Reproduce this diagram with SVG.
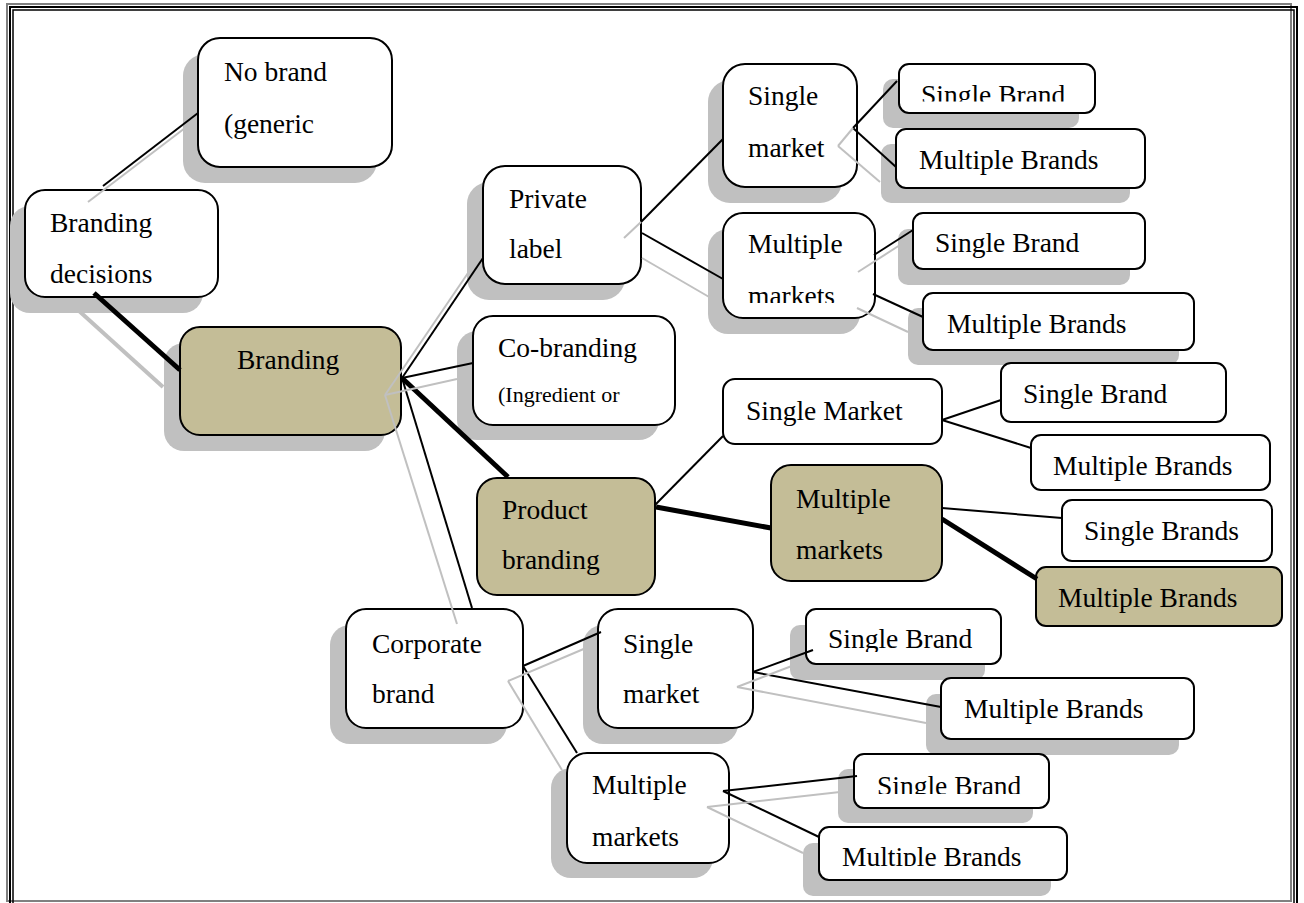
<svg xmlns="http://www.w3.org/2000/svg" width="1304" height="903" viewBox="0 0 1304 903">
<style>
.sh{fill:#c0c0c0}
.bx{fill:#fff;stroke:#000;stroke-width:2}
.tan{fill:#c4bd97;stroke:#000;stroke-width:2}
.t{font-family:"Liberation Serif","Times New Roman",serif;font-size:27.5px;fill:#000}
.s{font-size:22px}
.ln{stroke:#000;stroke-width:2;fill:none}
.th{stroke:#000;stroke-width:5;fill:none}
.gl{stroke:#c0c0c0;stroke-width:2;fill:none}
.gt{stroke:#c0c0c0;stroke-width:4;fill:none}
</style>
<defs>
<clipPath id="c1"><rect x="890" y="60" width="220" height="41.5"/></clipPath>
<clipPath id="c2"><rect x="720" y="210" width="160" height="93"/></clipPath>
<clipPath id="c3"><rect x="800" y="600" width="220" height="52"/></clipPath>
<clipPath id="c4"><rect x="850" y="750" width="220" height="44"/></clipPath>
<clipPath id="c5"><rect x="810" y="820" width="270" height="46"/></clipPath>
</defs>
<rect width="1304" height="903" fill="#fff"/>
<g id="frame" fill="none">
<rect x="7" y="4" width="1284" height="897" stroke="#808080" stroke-width="2"/>
<rect x="10" y="7" width="1287" height="910" stroke="#000" stroke-width="2"/>
<rect x="13" y="10" width="1281" height="910" stroke="#000" stroke-width="1.5"/>
</g>
<g id="node-nobrand">
<rect class="sh" x="183" y="54" width="194" height="129" rx="22"/>
<rect class="bx" x="198" y="38" width="194" height="129" rx="22"/>
<text class="t" x="224" y="81">No brand</text>
<text class="t" x="224" y="133">(generic</text>
</g>
<g id="node-branding-decisions">
<rect class="sh" x="10" y="206" width="193" height="107" rx="20"/>
<rect class="bx" x="25" y="190" width="193" height="107" rx="20"/>
<text class="t" x="50" y="232">Branding</text>
<text class="t" x="50" y="283">decisions</text>
</g>
<g id="node-branding">
<rect class="sh" x="164" y="343" width="221" height="108" rx="20"/>
<rect class="tan" x="180" y="327" width="221" height="108" rx="20"/>
<text class="t" x="237" y="369">Branding</text>
</g>
<g id="node-private-label">
<rect class="sh" x="467" y="182" width="158" height="118" rx="22"/>
<rect class="bx" x="483" y="166" width="158" height="118" rx="22"/>
<text class="t" x="509" y="208">Private</text>
<text class="t" x="509" y="258">label</text>
</g>
<g id="node-pl-single-market">
<rect class="sh" x="708" y="80" width="134" height="123" rx="22"/>
<rect class="bx" x="723" y="64" width="134" height="123" rx="22"/>
<text class="t" x="748" y="105">Single</text>
<text class="t" x="748" y="157">market</text>
</g>
<g id="node-pl-multiple-markets">
<rect class="sh" x="708" y="229" width="152" height="105" rx="20"/>
<rect class="bx" x="723" y="213" width="152" height="105" rx="20"/>
<text class="t" x="748" y="253">Multiple</text>
<text class="t" x="748" y="305" clip-path="url(#c2)">markets</text>
</g>
<g id="node-pl-sm-single-brand">
<rect class="sh" x="883" y="79" width="196" height="49" rx="10"/>
<rect class="bx" x="899" y="64" width="196" height="49" rx="10"/>
<text class="t" x="921" y="103.5" clip-path="url(#c1)">Single Brand</text>
</g>
<g id="node-pl-sm-multiple-brands">
<rect class="sh" x="881" y="144" width="249" height="59" rx="10"/>
<rect class="bx" x="896" y="129" width="249" height="59" rx="10"/>
<text class="t" x="919" y="169">Multiple Brands</text>
</g>
<g id="node-pl-mm-single-brand">
<rect class="sh" x="898" y="229" width="232" height="56" rx="10"/>
<rect class="bx" x="913" y="213" width="232" height="56" rx="10"/>
<text class="t" x="935" y="252">Single Brand</text>
</g>
<g id="node-pl-mm-multiple-brands">
<rect class="sh" x="908" y="308" width="271" height="57" rx="10"/>
<rect class="bx" x="923" y="293" width="271" height="57" rx="10"/>
<text class="t" x="947" y="333">Multiple Brands</text>
</g>
<g id="node-co-branding">
<rect class="sh" x="457" y="331" width="202" height="109" rx="20"/>
<rect class="bx" x="473" y="316" width="202" height="109" rx="20"/>
<text class="t" x="498" y="357">Co-branding</text>
<text class="t s" x="498" y="402">(Ingredient or</text>
</g>
<g id="node-product-branding">
<rect class="tan" x="477" y="478" width="178" height="117" rx="20"/>
<text class="t" x="502" y="519">Product</text>
<text class="t" x="502" y="569">branding</text>
</g>
<g id="node-pb-single-market">
<rect class="bx" x="723" y="379" width="219" height="65" rx="12"/>
<text class="t" x="746" y="420">Single Market</text>
</g>
<g id="node-pb-multiple-markets">
<rect class="tan" x="771" y="465" width="171" height="116" rx="20"/>
<text class="t" x="796" y="508">Multiple</text>
<text class="t" x="796" y="559">markets</text>
</g>
<g id="node-pb-sm-single-brand">
<rect class="bx" x="1001" y="363" width="225" height="59" rx="10"/>
<text class="t" x="1023" y="403">Single Brand</text>
</g>
<g id="node-pb-sm-multiple-brands">
<rect class="bx" x="1031" y="435" width="239" height="55" rx="10"/>
<text class="t" x="1053" y="475">Multiple Brands</text>
</g>
<g id="node-pb-mm-single-brands">
<rect class="bx" x="1062" y="500" width="210" height="61" rx="10"/>
<text class="t" x="1084" y="540">Single Brands</text>
</g>
<g id="node-pb-mm-multiple-brands">
<rect class="tan" x="1036" y="567" width="246" height="59" rx="10"/>
<text class="t" x="1058" y="607">Multiple Brands</text>
</g>
<g id="node-corporate-brand">
<rect class="sh" x="330" y="625" width="177" height="119" rx="20"/>
<rect class="bx" x="346" y="609" width="177" height="119" rx="20"/>
<text class="t" x="372" y="653">Corporate</text>
<text class="t" x="372" y="703">brand</text>
</g>
<g id="node-cb-single-market">
<rect class="sh" x="583" y="625" width="155" height="119" rx="20"/>
<rect class="bx" x="598" y="609" width="155" height="119" rx="20"/>
<text class="t" x="623" y="653">Single</text>
<text class="t" x="623" y="703">market</text>
</g>
<g id="node-cb-multiple-markets">
<rect class="sh" x="551" y="768" width="162" height="110" rx="20"/>
<rect class="bx" x="567" y="753" width="162" height="110" rx="20"/>
<text class="t" x="592" y="794">Multiple</text>
<text class="t" x="592" y="846">markets</text>
</g>
<g id="node-cb-sm-single-brand">
<rect class="sh" x="790" y="625" width="195" height="55" rx="10"/>
<rect class="bx" x="806" y="609" width="195" height="55" rx="10"/>
<text class="t" x="828" y="648" clip-path="url(#c3)">Single Brand</text>
</g>
<g id="node-cb-sm-multiple-brands">
<rect class="sh" x="926" y="694" width="253" height="61" rx="10"/>
<rect class="bx" x="941" y="678" width="253" height="61" rx="10"/>
<text class="t" x="964" y="718">Multiple Brands</text>
</g>
<g id="node-cb-mm-single-brand">
<rect class="sh" x="838" y="769" width="195" height="54" rx="10"/>
<rect class="bx" x="854" y="754" width="195" height="54" rx="10"/>
<text class="t" x="877" y="795" clip-path="url(#c4)">Single Brand</text>
</g>
<g id="node-cb-mm-multiple-brands">
<rect class="sh" x="803" y="843" width="248" height="53" rx="10"/>
<rect class="bx" x="819" y="827" width="248" height="53" rx="10"/>
<text class="t" x="842" y="866" clip-path="url(#c5)">Multiple Brands</text>
</g>
<g id="connectors">
<line class="ln" x1="103" y1="186" x2="198" y2="113"/>
<line class="th" x1="94" y1="293" x2="180" y2="370"/>
<line class="ln" x1="402" y1="378" x2="483" y2="258"/>
<line class="ln" x1="402" y1="378" x2="473" y2="363"/>
<line class="th" x1="402" y1="378" x2="508" y2="477"/>
<line class="ln" x1="402" y1="378" x2="472" y2="608"/>
<line class="ln" x1="641" y1="222" x2="723" y2="139"/>
<line class="ln" x1="642" y1="233" x2="723" y2="279"/>
<line class="ln" x1="853" y1="128" x2="897" y2="81"/>
<line class="ln" x1="853" y1="128" x2="896" y2="167"/>
<line class="ln" x1="874" y1="255" x2="913" y2="230"/>
<line class="ln" x1="873" y1="294" x2="923" y2="317"/>
<line class="ln" x1="655" y1="505" x2="723" y2="436"/>
<line class="th" x1="656" y1="507" x2="771" y2="528"/>
<line class="ln" x1="942" y1="420" x2="1001" y2="400"/>
<line class="ln" x1="942" y1="420" x2="1031" y2="448"/>
<line class="ln" x1="942" y1="508" x2="1062" y2="518"/>
<line class="th" x1="942" y1="519" x2="1037" y2="579"/>
<line class="ln" x1="523" y1="666" x2="601" y2="632"/>
<line class="ln" x1="523" y1="666" x2="577" y2="753"/>
<line class="ln" x1="753" y1="672" x2="813" y2="650"/>
<line class="ln" x1="753" y1="672" x2="941" y2="707"/>
<line class="ln" x1="723" y1="791" x2="857" y2="776"/>
<line class="ln" x1="723" y1="791" x2="819" y2="837"/>
<line class="gl" x1="88" y1="202" x2="185" y2="128"/>
<line class="gt" x1="78" y1="310" x2="163" y2="387"/>
<line class="gl" x1="385" y1="395" x2="468" y2="273"/>
<line class="gl" x1="385" y1="395" x2="457" y2="379"/>
<line class="gl" x1="385" y1="395" x2="457" y2="624"/>
<line class="gl" x1="624" y1="238" x2="641" y2="222"/>
<line class="gl" x1="642" y1="258" x2="716" y2="301"/>
<line class="gl" x1="838" y1="146" x2="853" y2="128"/>
<line class="gl" x1="838" y1="146" x2="880" y2="182"/>
<line class="gl" x1="858" y1="272" x2="900" y2="245"/>
<line class="gl" x1="857" y1="308" x2="908" y2="332"/>
<line class="gl" x1="508" y1="681" x2="586" y2="648"/>
<line class="gl" x1="508" y1="681" x2="562" y2="770"/>
<line class="gl" x1="737" y1="687" x2="797" y2="664"/>
<line class="gl" x1="737" y1="687" x2="926" y2="723"/>
<line class="gl" x1="707" y1="807" x2="840" y2="792"/>
<line class="gl" x1="707" y1="807" x2="803" y2="853"/>
</g>
</svg>
